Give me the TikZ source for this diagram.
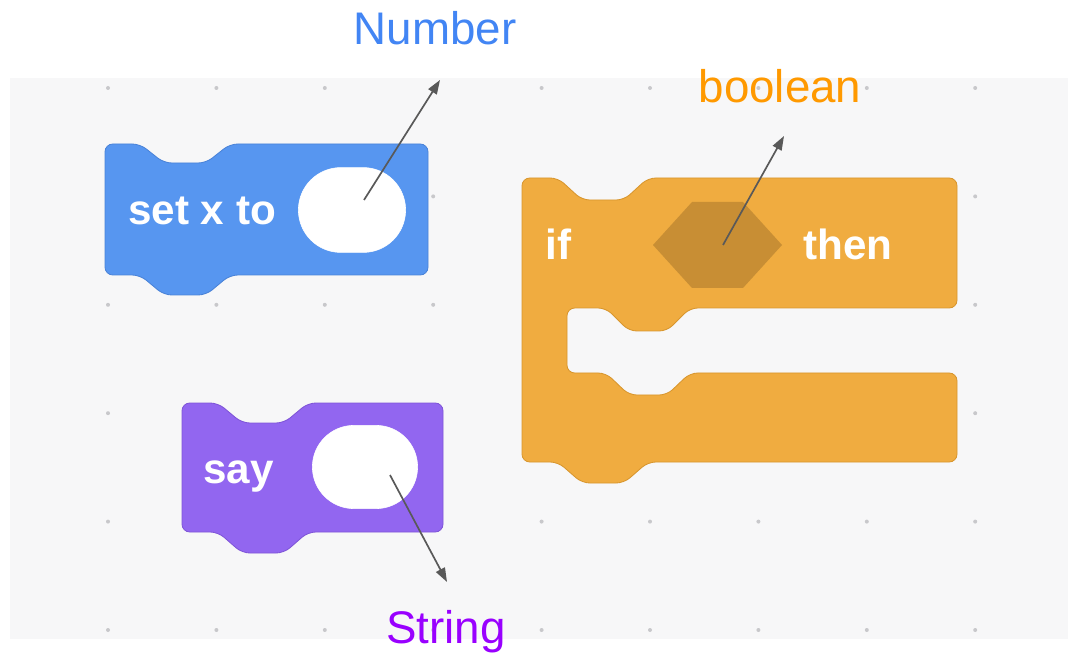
\documentclass[tikz,border=0pt]{standalone}
\usepackage{fontspec}
\setmainfont{Liberation Sans}
\usetikzlibrary{arrows.meta,shapes.misc}

\definecolor{bgrey}{HTML}{F7F7F8}
\definecolor{dotgrey}{HTML}{C8C8CB}
\definecolor{motion}{HTML}{5796F0}
\definecolor{motionedge}{HTML}{4A83D8}
\definecolor{looks}{HTML}{9266F0}
\definecolor{looksedge}{HTML}{7F55D8}
\definecolor{control}{HTML}{F0AC40}
\definecolor{controledge}{HTML}{D8962E}
\definecolor{hexfill}{HTML}{C88E34}
\definecolor{arrgrey}{HTML}{595959}
\definecolor{numblue}{HTML}{4285F4}
\definecolor{boolorange}{HTML}{FF9900}
\definecolor{strpurple}{HTML}{9900FF}

\tikzset{
  block/.style={rounded corners=5.5pt, line width=0.6pt},
  slot/.style={rounded rectangle, fill=white, draw=white, inner sep=0pt},
  blocktext/.style={text=white, font=\fontsize{30}{35}\selectfont\bfseries, anchor=base west, inner sep=0pt},
  typelabel/.style={font=\fontsize{32.5}{38}\selectfont, anchor=base, inner sep=0pt},
  pointer/.style={arrgrey, line width=1.2pt, -{Triangle[length=10pt,width=7pt]}}
}

\begin{document}
\begin{tikzpicture}[x=0.025cm,y=-0.025cm]
	\useasboundingbox (0,0) rectangle (1068,656);
	\fill[bgrey] (10,78) rectangle (1068,639);
	\foreach \gx in {0,...,8}
	  \foreach \gy in {0,...,5}
	    \fill[dotgrey] ({108+108.4*\gx},{88+108.4*\gy}) circle (2);

	% set x to
	\filldraw[block, fill=motion, draw=motionedge]
	  (105,144) -- (140,144) -- (164,163) -- (206,163) -- (230,144) -- (428,144)
	  -- (428,275) -- (230,275) -- (206,295) -- (164,295) -- (140,275) -- (105,275) -- cycle;
	\node[blocktext] (setx) at (128,225) {set x to};
	\node[slot, minimum width=2.68cm, minimum height=2.12cm] (numslot) at (352,210) {};

	% say
	\filldraw[block, fill=looks, draw=looksedge]
	  (182,403) -- (218,403) -- (242,423) -- (284,423) -- (308,403) -- (443,403)
	  -- (443,532) -- (308,532) -- (284,553) -- (242,553) -- (218,532) -- (182,532) -- cycle;
	\node[blocktext] (say) at (203,483) {say};
	\node[slot, minimum width=2.63cm, minimum height=2.08cm] (strslot) at (365,467) {};

	% if then
	\filldraw[block, fill=control, draw=controledge]
	  (522,178) -- (558,178) -- (582,200) -- (624,200) -- (648,178) -- (957,178)
	  -- (957,308) -- (690,308) -- (667,331) -- (629,331) -- (606,308) -- (567,308)
	  -- (567,373) -- (606,373) -- (629,395) -- (667,395) -- (690,373) -- (957,373)
	  -- (957,462) -- (648,462) -- (624,483) -- (582,483) -- (558,462) -- (522,462) -- cycle;
	\fill[hexfill] (653,245) -- (692,202) -- (743,202) -- (782,245) -- (743,288) -- (692,288) -- cycle;
	\node[blocktext] (if) at (545,260) {if};
	\node[blocktext] (then) at (803,260) {then};

	% type labels
	\node[typelabel, text=numblue] (number) at (435,45) {Number};
	\node[typelabel, text=boolorange] (boolean) at (780,103) {boolean};
	\node[typelabel, text=strpurple] (string) at (446,643) {String};

	\coordinate (numfrom) at (364,200);
	\coordinate (numto) at (440,80);
	\coordinate (boolfrom) at (723,245);
	\coordinate (boolto) at (784,136);
	\coordinate (strfrom) at (390,475);
	\coordinate (strto) at (447,582);
	\draw[pointer] (numfrom) -- (numto);
	\draw[pointer] (boolfrom) -- (boolto);
	\draw[pointer] (strfrom) -- (strto);
\end{tikzpicture}
\end{document}
